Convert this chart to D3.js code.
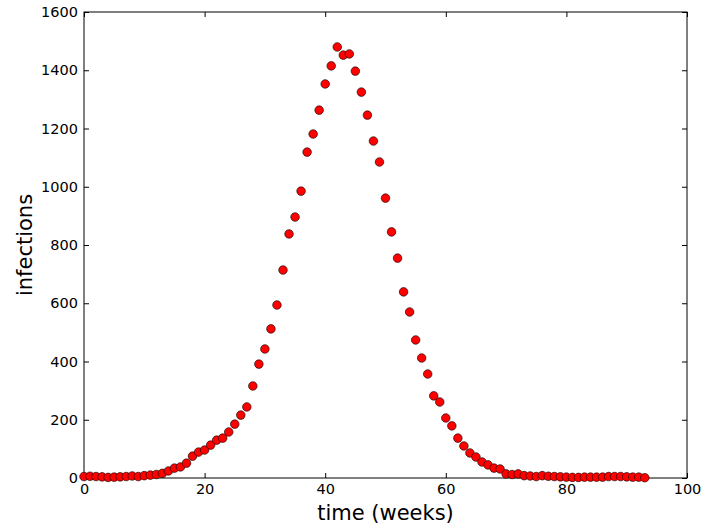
<!DOCTYPE html>
<html>
<head>
<meta charset="utf-8">
<script src="https://cdn.jsdelivr.net/npm/d3@7"></script>
<style>
  body { margin: 0; background: #fff; }
  #chart { width: 703px; height: 529px; }
  text { font-family: "DejaVu Sans", sans-serif; fill: #000; }
</style>
</head>
<body>
<div id="chart"></div>
<script>
// weekly infection counts
var weeks = d3.range(0, 94);
var infections = [
    5, 6, 5, 4, 2, 3, 4, 5, 7, 5,
    8, 10, 12, 16, 24, 34, 38, 51, 75, 89,
    96, 113, 130, 137, 158, 185, 216, 244, 316, 391,
    443, 512, 594, 714, 838, 896, 985, 1119, 1181, 1263,
    1353, 1415, 1480, 1452, 1456, 1397, 1325, 1246, 1157, 1085,
    961, 845, 755, 639, 570, 474, 412, 357, 282, 261,
    206, 179, 137, 110, 86, 72, 55, 45, 34, 31,
    14, 12, 14, 8, 7, 5, 8, 6, 5, 4,
    3, 2, 2, 3, 3, 3, 3, 5, 5, 5,
    4, 3, 3, 1
];
var x_ticks = [0, 20, 40, 60, 80, 100];
var y_ticks = [0, 200, 400, 600, 800, 1000, 1200, 1400, 1600];

var margin = {top: 12, right: 16, bottom: 51, left: 84};
var width = 703 - margin.left - margin.right;
var height = 529 - margin.top - margin.bottom;

var svg = d3.select("#chart")
    .append("svg")
        .attr("width", 703)
        .attr("height", 529)
    .append("g")
        .attr("transform", "translate(" + margin.left + "," + margin.top + ")");

var x = d3.scaleLinear().domain([0, 100]).range([0, width]);
var y = d3.scaleLinear().domain([0, 1600]).range([height, 0]);

// inward ticks on all four sides, like matplotlib classic
var style_axis = function(g) {
    g.select(".domain").remove();
    g.selectAll(".tick line").attr("stroke", "#000").attr("stroke-width", 1);
    g.selectAll(".tick text").attr("font-size", "14.5px").attr("fill", "#000");
};

svg.append("g")
    .attr("transform", "translate(0," + height + ")")
    .call(d3.axisBottom(x).tickValues(x_ticks).tickSize(-5).tickPadding(6).tickFormat(d3.format("d")))
    .call(style_axis);
svg.append("g")
    .call(d3.axisTop(x).tickValues(x_ticks).tickSize(-5).tickFormat(""))
    .call(style_axis);
svg.append("g")
    .call(d3.axisLeft(y).tickValues(y_ticks).tickSize(-5).tickPadding(6).tickFormat(d3.format("d")))
    .call(style_axis);
svg.append("g")
    .attr("transform", "translate(" + width + ",0)")
    .call(d3.axisRight(y).tickValues(y_ticks).tickSize(-5).tickFormat(""))
    .call(style_axis);

svg.append("rect")
    .attr("width", width)
    .attr("height", height)
    .attr("fill", "none")
    .attr("stroke", "#000")
    .attr("stroke-width", 1);

svg.append("g")
    .selectAll("circle")
    .data(weeks)
    .join("circle")
        .attr("cx", d => x(d))
        .attr("cy", d => y(infections[d]))
        .attr("r", 4.3)
        .attr("fill", "#ff0000")
        .attr("stroke", "#000")
        .attr("stroke-width", 0.6);

svg.append("text")
    .attr("x", width / 2)
    .attr("y", height + 42)
    .attr("text-anchor", "middle")
    .attr("font-size", "21px")
    .text("time (weeks)");

svg.append("text")
    .attr("transform", "translate(" + (-52) + "," + (height / 2) + ") rotate(-90)")
    .attr("text-anchor", "middle")
    .attr("font-size", "21px")
    .text("infections");
</script>
</body>
</html>
